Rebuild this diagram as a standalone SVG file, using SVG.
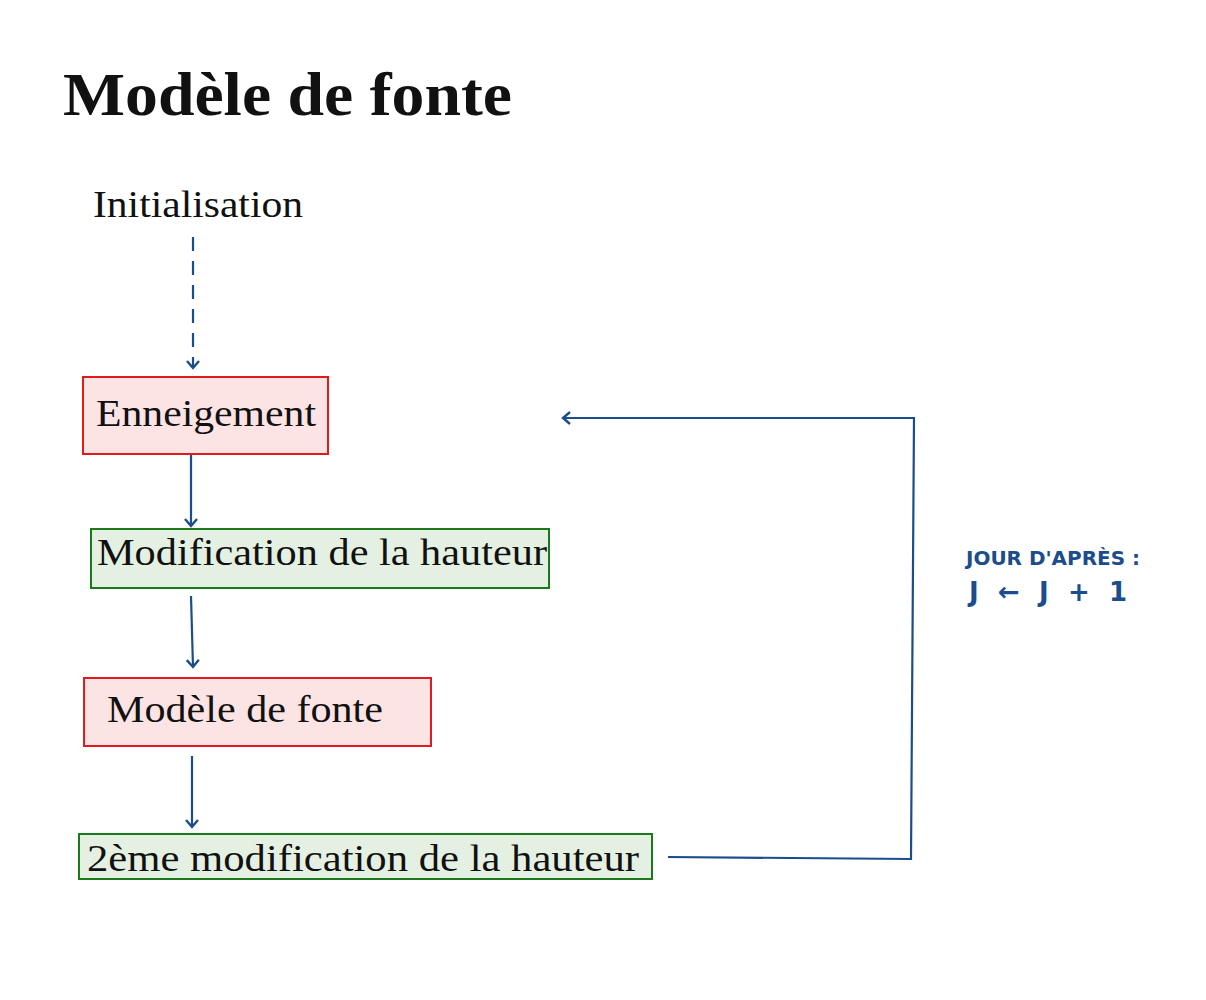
<svg xmlns="http://www.w3.org/2000/svg" width="1206" height="1000" viewBox="0 0 1206 1000">
<style>
.t{font-family:"Liberation Serif","Times New Roman",serif;fill:#111}
.red rect{fill:#fde4e4;stroke:#e01b1b;stroke-width:2}
.green rect{fill:#e4f0e2;stroke:#1a7a1a;stroke-width:2}
.con{fill:none;stroke:#1b4c8c;stroke-width:2.2}
.note{font-family:"DejaVu Sans",sans-serif;fill:#1b4c8c;font-weight:bold}
</style>
<defs>
<marker id="ah" markerWidth="16" markerHeight="16" refX="11" refY="8" orient="auto" markerUnits="userSpaceOnUse">
<path d="M4,2 L11,8 L4,14" fill="none" stroke="#1b4c8c" stroke-width="2.4"/>
</marker>
</defs>
<rect width="1206" height="1000" fill="#fff"/>
<text class="t" x="63" y="115" font-size="62" font-weight="bold" textLength="449" lengthAdjust="spacingAndGlyphs">Modèle de fonte</text>
<g id="init"><text class="t" x="93" y="217" font-size="37" textLength="210" lengthAdjust="spacingAndGlyphs">Initialisation</text></g>
<g id="enneigement" class="red"><rect x="83" y="377" width="245" height="77"/><text class="t" x="96" y="426" font-size="37" textLength="220" lengthAdjust="spacingAndGlyphs">Enneigement</text></g>
<g id="modif" class="green"><rect x="91" y="529" width="458" height="59"/><text class="t" x="97" y="565" font-size="37" textLength="450" lengthAdjust="spacingAndGlyphs">Modification de la hauteur</text></g>
<g id="fonte" class="red"><rect x="84" y="678" width="347" height="68"/><text class="t" x="107" y="722" font-size="37" textLength="276" lengthAdjust="spacingAndGlyphs">Modèle de fonte</text></g>
<g id="modif2" class="green"><rect x="79" y="834" width="573" height="45"/><text class="t" x="87" y="871" font-size="37" textLength="552" lengthAdjust="spacingAndGlyphs">2ème modification de la hauteur</text></g>
<g id="connectors">
<path class="con" d="M193,237 L193,368" stroke-dasharray="14,10" marker-end="url(#ah)"/>
<path class="con" d="M191,455 L191,526" marker-end="url(#ah)"/>
<path class="con" d="M191,596 L193,667" marker-end="url(#ah)"/>
<path class="con" d="M192,756 L192,827" marker-end="url(#ah)"/>
<path class="con" d="M668,857 L911,859 L914,418 L563,418" marker-end="url(#ah)"/>
</g>
<g id="note">
<text class="note" x="966" y="565" font-size="19" textLength="174" lengthAdjust="spacingAndGlyphs">JOUR D'APRÈS :</text>
<text class="note" x="969" y="601" font-size="26" textLength="158" lengthAdjust="spacing">J ← J + 1</text>
</g>
</svg>
